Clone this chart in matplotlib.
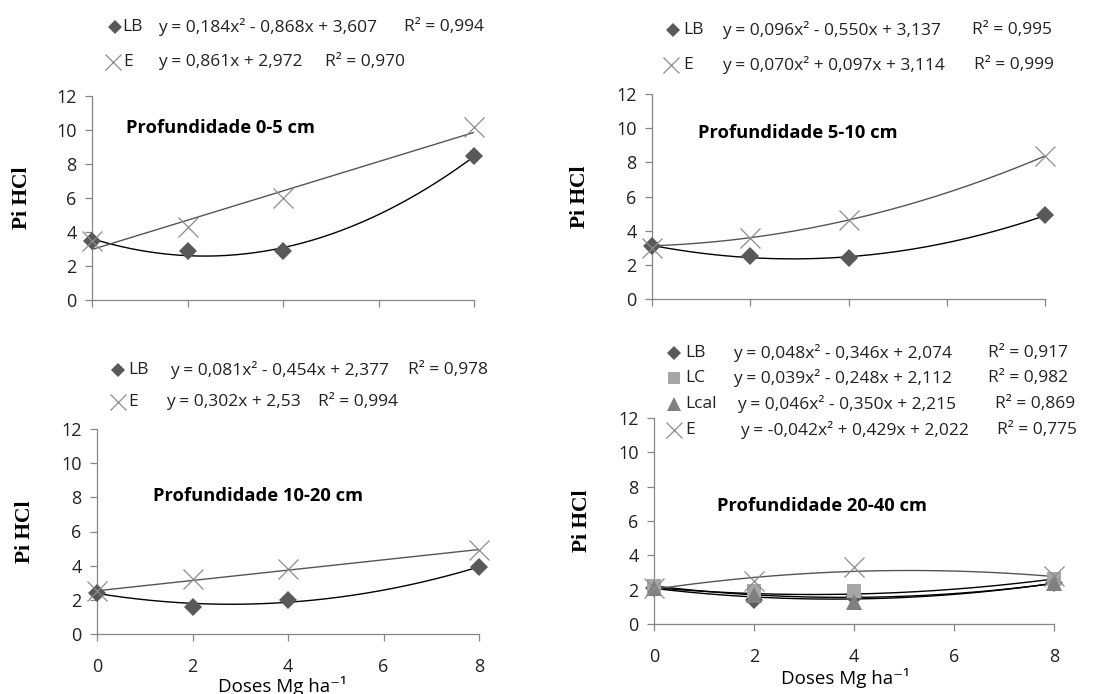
import numpy as np
import matplotlib
matplotlib.use("Agg")
import matplotlib.pyplot as plt
from matplotlib.lines import Line2D

plt.rcParams['font.family'] = ['Open Sans', 'DejaVu Sans']

# Mg doses (Mg ha-1)
doses = [0, 2, 4, 8]

# 0-5 cm
lb_05 = [3.5, 2.9, 2.9, 8.5]
e_05 = [3.5, 4.3, 6.0, 10.2]
fit_lb_05 = [0.184, -0.868, 3.607]
fit_e_05 = [0.861, 2.972]

# 5-10 cm
lb_510 = [3.1, 2.5, 2.4, 4.9]
e_510 = [3.0, 3.6, 4.6, 8.4]
fit_lb_510 = [0.096, -0.550, 3.137]
fit_e_510 = [0.070, 0.097, 3.114]

# 10-20 cm
lb_1020 = [2.4, 1.6, 2.0, 3.9]
e_1020 = [2.5, 3.2, 3.8, 4.9]
fit_lb_1020 = [0.081, -0.454, 2.377]
fit_e_1020 = [0.302, 2.53]

# 20-40 cm
lb_2040 = [2.1, 1.4, 1.6, 2.4]
lc_2040 = [2.2, 1.9, 1.9, 2.6]
lcal_2040 = [2.1, 1.7, 1.3, 2.4]
e_2040 = [2.1, 2.5, 3.3, 2.8]
fit_lb_2040 = [0.048, -0.346, 2.074]
fit_lc_2040 = [0.039, -0.248, 2.112]
fit_lcal_2040 = [0.046, -0.350, 2.215]
fit_e_2040 = [-0.042, 0.429, 2.022]

yticks = [0, 2, 4, 6, 8, 10, 12]
xticks = [0, 2, 4, 6, 8]

styles = {
  'LB': dict(marker='D', color='#595959', ms=9, mew=0),
  'LC': dict(marker='s', color='#a6a6a6', ms=10.5, mew=0),
  'Lcal': dict(marker='^', color='#7f7f7f', ms=12, mew=0),
  'E': dict(marker='x', color='#8c8c8c', ms=14, mew=0.9),
}
line_col = {'LB': 'black', 'LC': 'black', 'Lcal': 'black', 'E': '#555555'}

W, H = 1107., 694.

def fx(px):
  return px / W

def fy(py):
  return 1 - py / H


def panel(fig, box, title, tpos, series, fits, xlabels, ylab_x):
  x0, x1, ytop, ybot = box
  ax = fig.add_axes([fx(x0), fy(ybot), fx(x1 - x0), fy(ytop) - fy(ybot)])
  xs = np.linspace(0, 8, 200)
  for name, vals in series:
    ax.plot(xs, np.polyval(fits[name], xs), color=line_col[name], lw=1.0, zorder=2)
  for name, vals in series:
    st = styles[name]
    ax.plot(doses, vals, linestyle='none', marker=st['marker'], color=st['color'],
            ms=st['ms'], mew=st['mew'], clip_on=False, zorder=3)
  ax.set_xlim(0, 8)
  ax.set_ylim(0, 12)
  ax.set_yticks(yticks)
  ax.set_xticks(xticks)
  for s in ['top', 'right']:
    ax.spines[s].set_visible(False)
  for s in ['left', 'bottom']:
    ax.spines[s].set_color('#868686')
    ax.spines[s].set_linewidth(0.9)
  ax.tick_params(direction='out', length=5, width=0.9, color='#868686',
                 labelsize=13, labelcolor='#222222', pad=6)
  ax.tick_params(axis='x', pad=12)
  if not xlabels:
    ax.set_xticklabels([])
  ax.text(fx(tpos[0]), fy(tpos[1]), title, transform=fig.transFigure,
          fontsize=13.2, fontweight='bold', ha='left', va='center')
  fig.text(fx(ylab_x), (fy(ytop) + fy(ybot)) / 2, 'Pi HCl', rotation=90,
           family='Liberation Serif', fontweight='bold', fontsize=15.5,
           ha='center', va='center')
  return ax


def legend_rows(fig, rows):
  # rows: (name, y, marker x, label x, eq x, r2 x, eq, r2)
  for name, y, mx, lx, ex, rx, eq, r2 in rows:
    st = styles[name]
    ms = st['ms'] * 0.8 if name != 'E' else 12
    fig.add_artist(Line2D([fx(mx)], [fy(y)], transform=fig.transFigure,
                          marker=st['marker'], color=st['color'], ms=ms,
                          mew=st['mew'], linestyle='none'))
    kw = dict(fontsize=12.5, color='#222222', ha='left', va='center')
    fig.text(fx(lx), fy(y), name, **kw)
    fig.text(fx(ex), fy(y), eq, **kw)
    fig.text(fx(rx), fy(y), r2, **kw)


fig = plt.figure(figsize=(11.07, 6.94), dpi=100)

panel(fig, (92, 474, 96, 300), 'Profundidade 0-5 cm', (126, 128),
      [('LB', lb_05), ('E', e_05)], {'LB': fit_lb_05, 'E': fit_e_05}, False, 22)
legend_rows(fig, [
  ('LB', 27, 115, 122, 158, 404, 'y = 0,184x² - 0,868x + 3,607', 'R² = 0,994'),
  ('E', 62, 113, 123, 158, 325, 'y = 0,861x + 2,972', 'R² = 0,970'),
])

panel(fig, (652, 1045, 94, 299), 'Profundidade 5-10 cm', (698, 133),
      [('LB', lb_510), ('E', e_510)], {'LB': fit_lb_510, 'E': fit_e_510}, False, 580)
legend_rows(fig, [
  ('LB', 30, 673, 683, 722, 972, 'y = 0,096x² - 0,550x + 3,137', 'R² = 0,995'),
  ('E', 65, 671, 683, 722, 974, 'y = 0,070x² + 0,097x + 3,114', 'R² = 0,999'),
])

ax3 = panel(fig, (97, 479, 429, 634), 'Profundidade 10-20 cm', (153, 496),
            [('LB', lb_1020), ('E', e_1020)], {'LB': fit_lb_1020, 'E': fit_e_1020}, True, 25)
legend_rows(fig, [
  ('LB', 370, 118, 128, 170, 408, 'y = 0,081x² - 0,454x + 2,377', 'R² = 0,978'),
  ('E', 402, 118, 128, 166, 318, 'y = 0,302x + 2,53', 'R² = 0,994'),
])
fig.text(fx(282), fy(686), 'Doses Mg ha⁻¹', fontsize=13.5, ha='center', va='center')

ax4 = panel(fig, (654, 1054, 418, 624), 'Profundidade 20-40 cm', (717, 506),
            [('LB', lb_2040), ('LC', lc_2040), ('Lcal', lcal_2040), ('E', e_2040)],
            {'LB': fit_lb_2040, 'LC': fit_lc_2040, 'Lcal': fit_lcal_2040, 'E': fit_e_2040},
            True, 582)
legend_rows(fig, [
  ('LB', 353, 674, 685, 733, 988, 'y = 0,048x² - 0,346x + 2,074', 'R² = 0,917'),
  ('LC', 378, 674, 685, 733, 988, 'y = 0,039x² - 0,248x + 2,112', 'R² = 0,982'),
  ('Lcal', 404, 674, 685, 737, 995, 'y = 0,046x² - 0,350x + 2,215', 'R² = 0,869'),
  ('E', 430, 674, 685, 740, 997, 'y = -0,042x² + 0,429x + 2,022', 'R² = 0,775'),
])
fig.text(fx(845), fy(678), 'Doses Mg ha⁻¹', fontsize=13.5, ha='center', va='center')

fig.savefig('out.png', dpi=100)
